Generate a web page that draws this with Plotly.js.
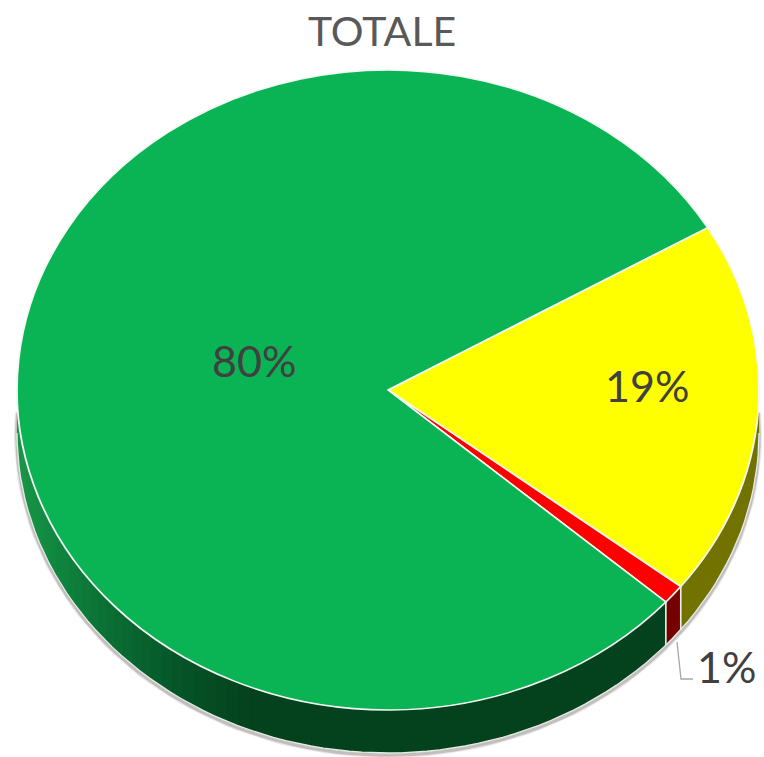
<!DOCTYPE html>
<html>
<head>
<meta charset="utf-8">
<script src="https://cdn.plot.ly/plotly-3.0.1.min.js"></script>
<style>
html,body{margin:0;padding:0;background:#fff;overflow:hidden}
#chart{width:764px;height:757px}
/* Flatten the circular pie into the tilted ellipse of the reference */
.pielayer{transform:matrix(1,0,0,0.8625,0,63.5)}
</style>
</head>
<body>
<div id="chart"></div>
<script>
const categories = ["Giallo", "Rosso", "Verde"];
const values = [19, 1, 80];
const topColors = ["#ffff00", "#ff0000", "#0ab354"];
const sideColors = ["#727200", "#760000", null];
const greenSideX = [17, 60, 110, 190, 250, 764];
const greenSideShade = [[26,150,72],[16,133,62],[10,110,52],[5,82,38],[4,66,30],[4,66,30]];
const labelPos = [[647, 385], [726, 666], [254, 360]];

const cx = 388, cy = 390, rx = 371, ry = 320, depth = 43, rotation = 59.5;
const total = values.reduce((a, b) => a + b, 0);
const px = t => cx + rx * Math.cos(t * Math.PI / 180);
const py = (t, d) => cy + d + ry * Math.sin(t * Math.PI / 180);

function greenAt(x) {
  for (let i = 1; i < greenSideX.length; i++) {
    if (x <= greenSideX[i]) {
      const f = (x - greenSideX[i - 1]) / (greenSideX[i] - greenSideX[i - 1]);
      const c = greenSideShade[i - 1].map((v, k) => Math.round(v + f * (greenSideShade[i][k] - v)));
      return `rgb(${c.join(",")})`;
    }
  }
  return "rgb(4,66,30)";
}

const traces = [];
const hidden = {mode: "lines", hoverinfo: "skip", showlegend: false, type: "scatter"};

// soft shadow under the rim
[[6, "rgba(110,100,100,0.16)"], [3.5, "rgba(110,100,100,0.30)"]].forEach(([w, col]) => {
  const xs = [], ys = [];
  for (let t = -4; t <= 184; t += 2) { xs.push(px(t)); ys.push(py(t, depth) + 2); }
  traces.push({...hidden, x: xs, y: ys, line: {color: col, width: w}});
});

// rim of the disc, one band per slice, derived from the same values
let start = rotation - 90;
const edges = [];
values.forEach((v, i) => {
  const sweep = v / total * 360;
  const a = Math.max(start, 0), b = Math.min(start + sweep, 180);
  if (b > a) {
    const flat = sideColors[i];
    const steps = flat ? 1 : Math.ceil((b - a) / 2);
    // painted from the far end so each band overlaps the next and no seam shows
    for (let s = steps - 1; s >= 0; s--) {
      const t0 = a + (b - a) * s / steps;
      const t1 = Math.min(b, a + (b - a) * (s + 1) / steps + 1);
      const col = flat || greenAt((px(t0) + px(t1)) / 2);
      const xs = [], ys = [], n = flat ? Math.ceil((t1 - t0) / 2) : 2;
      for (let k = 0; k <= n; k++) { const t = t0 + (t1 - t0) * k / n; xs.push(px(t)); ys.push(py(t, 0)); }
      for (let k = n; k >= 0; k--) { const t = t0 + (t1 - t0) * k / n; xs.push(px(t)); ys.push(py(t, depth)); }
      traces.push({...hidden, x: xs, y: ys, fill: "toself", fillcolor: col, line: {color: col, width: 0}});
    }
    if (start + sweep < 180) edges.push(start + sweep);
  }
  start += sweep;
});

// pale outline of the rim's lower edge and the seams between slices
{
  const xs = [], ys = [];
  for (let t = 0; t <= 180; t += 2) { xs.push(px(t)); ys.push(py(t, depth)); }
  traces.push({...hidden, x: xs, y: ys, line: {color: "#e4ece4", width: 1.3}});
}
edges.forEach(t => traces.push({...hidden, x: [px(t), px(t)], y: [py(t, 0), py(t, depth)], line: {color: "#eef2ea", width: 1.6}}));

// the real pie surface
traces.push({
  type: "pie",
  labels: categories,
  values: values,
  sort: false,
  direction: "clockwise",
  rotation: rotation,
  marker: {colors: topColors, line: {color: "#f4f8f4", width: 1.8}},
  textinfo: "none",
  hoverinfo: "skip",
  showlegend: false,
  domain: {x: [17 / 764, 759 / 764], y: [0, 1]}
});

const annotations = values.map((v, i) => ({
  x: labelPos[i][0], y: labelPos[i][1], xref: "x", yref: "y",
  text: Math.round(v / total * 100) + "%",
  showarrow: false, xanchor: "center", yanchor: "middle",
  font: {family: "Lato, sans-serif", size: 43, color: "#404040"}
}));

const layout = {
  width: 764, height: 757,
  margin: {l: 0, r: 0, t: 0, b: 0},
  paper_bgcolor: "#ffffff", plot_bgcolor: "#ffffff",
  title: {
    text: "TOTALE", x: 382 / 764, xanchor: "center", xref: "paper",
    y: 1 - 32 / 757, yanchor: "middle", yref: "container",
    font: {family: "Lato, sans-serif", size: 41, color: "#595959"}
  },
  xaxis: {visible: false, range: [0, 764], fixedrange: true},
  yaxis: {visible: false, range: [757, 0], fixedrange: true},
  annotations: annotations,
  shapes: [{
    type: "path", xref: "x", yref: "y",
    path: "M 677 642 L 681 679 L 693 679",
    line: {color: "#a6a6a6", width: 1.3}
  }],
  showlegend: false
};

Plotly.newPlot("chart", traces, layout, {displayModeBar: false, staticPlot: true});
</script>
</body>
</html>
